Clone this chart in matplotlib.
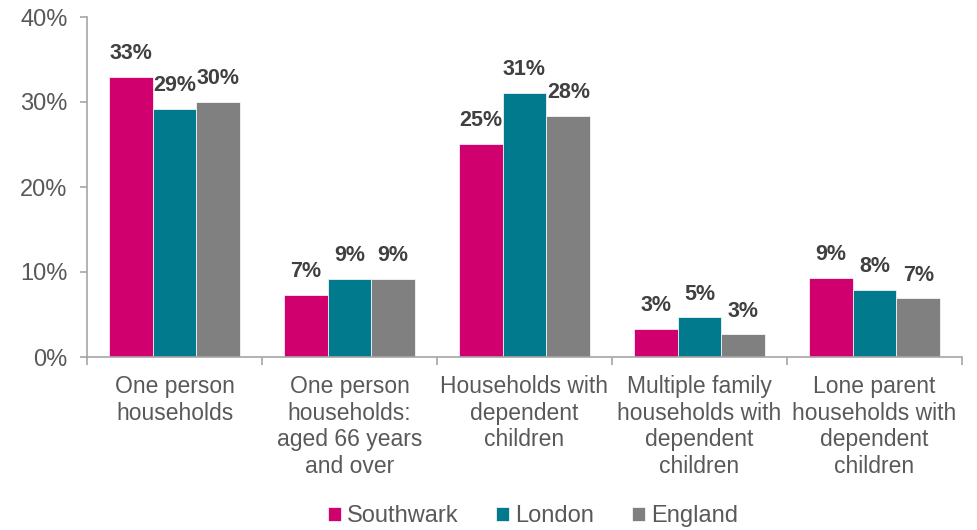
import matplotlib
matplotlib.use("Agg")
import matplotlib.pyplot as plt
import numpy as np

# household composition shares (%)
categories = [
    "One person\nhouseholds",
    "One person\nhouseholds:\naged 66 years\nand over",
    "Households with\ndependent\nchildren",
    "Multiple family\nhouseholds with\ndependent\nchildren",
    "Lone parent\nhouseholds with\ndependent\nchildren",
]
southwark = [33.0, 7.3, 25.1, 3.3, 9.3]
london = [29.2, 9.2, 31.1, 4.7, 7.9]
england = [30.0, 9.2, 28.4, 2.7, 6.9]
series_names = ["Southwark", "London", "England"]
colours = ["#D0006F", "#007A8C", "#808080"]

plt.rcParams["font.family"] = ["Liberation Sans", "DejaVu Sans"]

fig = plt.figure(figsize=(9.78, 5.30), dpi=100)
ax = fig.add_axes([87 / 978, 1 - 357 / 530, (962 - 87) / 978, (357 - 17) / 530])

x = np.arange(len(categories))
w = 0.25
for i, (vals, name, col) in enumerate(zip([southwark, london, england], series_names, colours)):
    pos = x + (i - 1) * w
    bars = ax.bar(pos, vals, width=w, color=col, label=name, edgecolor="white", linewidth=0.5)
    for b, v in zip(bars, vals):
        ax.annotate(f"{v:.0f}%", (b.get_x() + b.get_width() / 2, v),
                    xytext=(0, 9), textcoords="offset points", ha="center", va="bottom",
                    fontsize=15.5, fontweight="bold", color="#404040")

ax.set_ylim(0, 40)
ax.set_xlim(-0.5, len(categories) - 0.5)
ax.set_yticks([0, 10, 20, 30, 40])
ax.set_yticklabels([f"{t}%" for t in [0, 10, 20, 30, 40]], fontsize=17, color="#595959")
ax.tick_params(axis="y", length=5, color="#A6A6A6", width=1.2, pad=9)

ax.set_xticks(x)
ax.set_xticklabels(categories, fontsize=16.5, color="#595959", linespacing=1.2)
ax.set_xticks(np.arange(-0.5, len(categories)), minor=True)
ax.tick_params(axis="x", which="major", length=0, pad=13)
ax.tick_params(axis="x", which="minor", length=6, color="#A6A6A6", width=1.2)

for s in ["top", "right"]:
    ax.spines[s].set_visible(False)
for s in ["left", "bottom"]:
    ax.spines[s].set_color("#A6A6A6")
    ax.spines[s].set_linewidth(1.2)

fig.legend(loc="lower center", bbox_to_anchor=(0.545, -0.035), ncol=3, frameon=False,
           fontsize=17, handlelength=0.55, handleheight=0.55, handletextpad=0.25,
           columnspacing=1.6, labelcolor="#595959")

fig.savefig("out.png", dpi=100)
